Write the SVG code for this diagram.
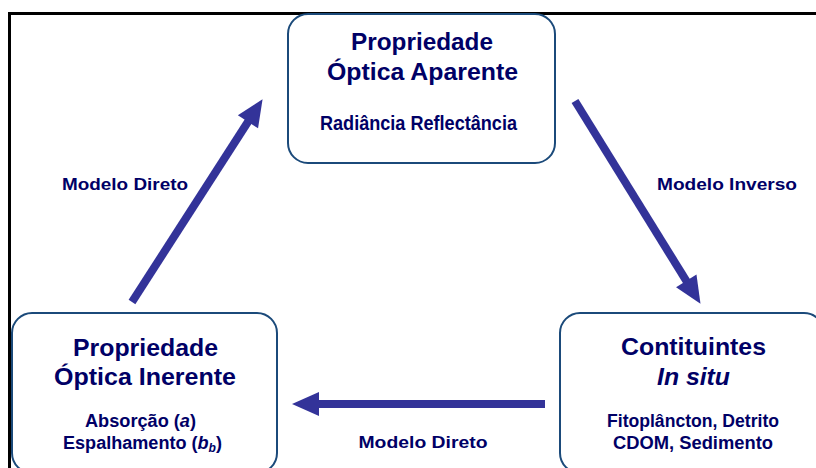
<svg xmlns="http://www.w3.org/2000/svg" width="816" height="468" viewBox="0 0 816 468">
<style>
.box{fill:#ffffff;stroke:#1b4a7a;stroke-width:2}
.t{font-family:"Liberation Sans",Arial,sans-serif;font-weight:bold;fill:#000066;text-anchor:middle}
.h{font-size:24px}
.s{font-size:20px}
.s2{font-size:18px}
.l{font-size:17px}
.arr{stroke:#333399;stroke-width:8;fill:none;marker-end:url(#ah)}
</style>
<defs>
<marker id="ah" markerUnits="userSpaceOnUse" markerWidth="27" markerHeight="24" refX="0" refY="12" orient="auto" overflow="visible">
<path d="M-1,0 L26,12 L-1,24 z" fill="#333399"/>
</marker>
</defs>
<rect width="816" height="468" fill="#ffffff"/>
<path d="M9.5,470 V13.5 H816" fill="none" stroke="#000000" stroke-width="3"/>
<g id="connectors">
<line class="arr" x1="132" y1="302" x2="248.5" y2="121"/>
<line class="arr" x1="575" y1="101" x2="686.8" y2="281.7"/>
<line class="arr" x1="545" y1="404" x2="318" y2="404"/>
<text class="t l" x="125" y="190" textLength="126" lengthAdjust="spacingAndGlyphs">Modelo Direto</text>
<text class="t l" x="727" y="190" textLength="140" lengthAdjust="spacingAndGlyphs">Modelo Inverso</text>
<text class="t l" x="423" y="448" textLength="129" lengthAdjust="spacingAndGlyphs">Modelo Direto</text>
</g>
<g id="node-aparente">
<rect class="box" x="288" y="14" width="267" height="149" rx="20"/>
<text class="t h" x="422" y="50" textLength="142" lengthAdjust="spacingAndGlyphs">Propriedade</text>
<text class="t h" x="422.5" y="80" textLength="191" lengthAdjust="spacingAndGlyphs">Óptica Aparente</text>
<text class="t s" x="418.5" y="130" textLength="197" lengthAdjust="spacingAndGlyphs">Radiância Reflectância</text>
</g>
<g id="node-inerente">
<rect class="box" x="12" y="313" width="265" height="160" rx="20"/>
<text class="t h" x="145.5" y="356" textLength="145" lengthAdjust="spacingAndGlyphs">Propriedade</text>
<text class="t h" x="145" y="385" textLength="182" lengthAdjust="spacingAndGlyphs">Óptica Inerente</text>
<text class="t s2" x="140.5" y="427" textLength="111" lengthAdjust="spacingAndGlyphs">Absorção (<tspan font-style="italic">a</tspan>)</text>
<text class="t s2" x="142.5" y="449" textLength="159" lengthAdjust="spacingAndGlyphs">Espalhamento (<tspan font-style="italic">b</tspan><tspan font-style="italic" font-size="12px" dy="3">b</tspan><tspan dy="-3">)</tspan></text>
</g>
<g id="node-constituintes">
<rect class="box" x="560" y="313" width="264" height="160" rx="20"/>
<text class="t h" x="693.5" y="355" textLength="145" lengthAdjust="spacingAndGlyphs">Contituintes</text>
<text class="t h" x="693.5" y="385" font-style="italic" textLength="73" lengthAdjust="spacingAndGlyphs">In situ</text>
<text class="t s2" x="693" y="427" textLength="172" lengthAdjust="spacingAndGlyphs">Fitoplâncton, Detrito</text>
<text class="t s2" x="693" y="449" textLength="160" lengthAdjust="spacingAndGlyphs">CDOM, Sedimento</text>
</g>
</svg>
